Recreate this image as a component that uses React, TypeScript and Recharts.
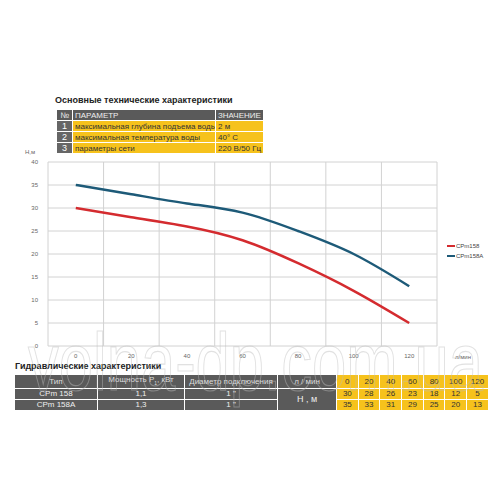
import { CartesianGrid, Line, LineChart, XAxis, YAxis } from 'recharts';

const flow = [0, 20, 40, 60, 80, 100, 120];
const headCPm158 = [30, 28, 26, 23, 18, 12, 5];
const headCPm158A = [35, 33, 31, 29, 25, 20, 13];
const flowTicks = [0, 20, 40, 60, 80, 100, 120];
const gridTicks = [-10, 10, 30, 50, 70, 90, 110, 130];
const headTicks = [0, 5, 10, 15, 20, 25, 30, 35, 40];

const paramRows = [
  ['1', 'максимальная глубина подъема воды', '2 м'],
  ['2', 'максимальная температура воды', '40° С'],
  ['3', 'параметры сети', '220 В/50 Гц'],
];
const pumpModels = ['CPm 158', 'CPm 158A'];
const pumpPower = ['1,1', '1,3'];
const pumpDiameter = ['1 "', '1 "'];

const FONT = '"Liberation Sans Narrow", "Liberation Sans", Arial, sans-serif';
const YELLOW = '#f6c21c';
const DARK = '#5a5a5a';
const RED = '#d42b2f';
const BLUE = '#1d5a78';

const series = [
  { key: 'a', name: 'CPm158', color: RED },
  { key: 'b', name: 'CPm158A', color: BLUE },
];

const data = flow.map((q, i) => ({ q, a: headCPm158[i], b: headCPm158A[i] }));

const cell = (bg: string, color: string, extra: React.CSSProperties = {}): React.CSSProperties => ({
  background: bg,
  color,
  padding: '0 2px',
  border: '1px solid #fff',
  whiteSpace: 'nowrap',
  overflow: 'hidden',
  lineHeight: '9px',
  ...extra,
});

export default function App() {
  return (
    <div style={{ position: 'absolute', left: 0, top: 0, width: 500, height: 500, background: '#fff', fontFamily: FONT }}>
      <div style={{ position: 'absolute', left: 55, top: 95, fontSize: 9, fontWeight: 'bold', color: '#222' }}>
        Основные технические характеристики
      </div>
      <table
        style={{ position: 'absolute', left: 56, top: 109, borderCollapse: 'collapse', fontSize: 8, tableLayout: 'fixed', width: 207 }}
      >
        <colgroup>
          <col style={{ width: 16 }} />
          <col style={{ width: 143 }} />
          <col style={{ width: 48 }} />
        </colgroup>
        <tbody>
          <tr style={{ height: 11 }}>
            <td style={cell(DARK, '#eee', { textAlign: 'center' })}>№</td>
            <td style={cell(DARK, '#eee')}>ПАРАМЕТР</td>
            <td style={cell(DARK, '#eee')}>ЗНАЧЕНИЕ</td>
          </tr>
          {paramRows.map((r) => (
            <tr key={r[0]} style={{ height: 11 }}>
              <td style={cell('#666', '#fff', { textAlign: 'center', fontSize: 9 })}>{r[0]}</td>
              <td style={cell(YELLOW, '#333')}>{r[1]}</td>
              <td style={cell(YELLOW, '#333')}>{r[2]}</td>
            </tr>
          ))}
        </tbody>
      </table>

      <div style={{ position: 'absolute', left: 0, top: 0 }}>
        <LineChart width={500} height={500} data={data} margin={{ top: 162, right: 63, bottom: 134, left: 28 }}>
          <XAxis xAxisId="grid" dataKey="q" type="number" domain={[-10, 130]} ticks={gridTicks} hide />
          <CartesianGrid xAxisId="grid" stroke="#d2d2d2" strokeWidth={1} />
          <XAxis
            dataKey="q"
            type="number"
            domain={[-10, 130]}
            ticks={flowTicks}
            interval={0}
            axisLine={false}
            tickLine={false}
            tickSize={0}
            tickMargin={8}
            height={20}
            tick={{ fontSize: 6, fill: '#666', fontFamily: FONT }}
          />
          <YAxis
            type="number"
            domain={[0, 40]}
            ticks={headTicks}
            interval={0}
            axisLine={false}
            tickLine={false}
            tickSize={0}
            tickMargin={10}
            width={20}
            tick={{ fontSize: 6, fill: '#666', fontFamily: FONT }}
          />
          {series.map((s) => (
            <Line
              key={s.key}
              name={s.name}
              dataKey={s.key}
              type="natural"
              stroke={s.color}
              strokeWidth={2.5}
              dot={false}
              isAnimationActive={false}
            />
          ))}
        </LineChart>
      </div>

      <div style={{ position: 'absolute', left: 447, top: 241, fontSize: 6, color: '#444' }}>
        {series.map((s) => (
          <div key={s.key} style={{ display: 'flex', alignItems: 'center', height: 10 }}>
            <span style={{ width: 8, height: 2, background: s.color, marginRight: 1 }} />
            {s.name}
          </div>
        ))}
      </div>

      <div style={{ position: 'absolute', left: 25, top: 149, fontSize: 6, color: '#666' }}>Н,м</div>
      <div style={{ position: 'absolute', left: 455, top: 354, fontSize: 6, color: '#666' }}>л/мин</div>

      <div style={{ position: 'absolute', left: 15, top: 361, fontSize: 9, fontWeight: 'bold', color: '#222' }}>
        Гидравлические характеристики
      </div>
      <table
        style={{ position: 'absolute', left: 14, top: 374, borderCollapse: 'collapse', fontSize: 8, tableLayout: 'fixed', width: 474 }}
      >
        <colgroup>
          <col style={{ width: 83 }} />
          <col style={{ width: 87 }} />
          <col style={{ width: 93 }} />
          <col style={{ width: 59 }} />
          {flow.map((q) => (
            <col key={q} style={{ width: 21.7 }} />
          ))}
        </colgroup>
        <tbody>
          <tr style={{ height: 11 }}>
            <td style={cell(DARK, '#ddd', { textAlign: 'center' })}>Тип</td>
            <td style={cell(DARK, '#ddd', { textAlign: 'center' })}>
              Мощность Р<sub style={{ fontSize: 5 }}>1</sub>, кВт
            </td>
            <td style={cell(DARK, '#ddd', { textAlign: 'center' })}>Диаметр подключения</td>
            <td style={cell(DARK, '#ddd', { textAlign: 'center' })}>л / мин</td>
            {flow.map((q) => (
              <td key={q} style={cell(YELLOW, '#333', { textAlign: 'center', padding: 0 })}>
                {q}
              </td>
            ))}
          </tr>
          {pumpModels.map((m, r) => (
            <tr key={m} style={{ height: 11 }}>
              <td style={cell(DARK, '#eee', { textAlign: 'center' })}>{m}</td>
              <td style={cell(DARK, '#eee', { textAlign: 'center' })}>{pumpPower[r]}</td>
              <td style={cell(DARK, '#eee', { textAlign: 'center' })}>{pumpDiameter[r]}</td>
              {r === 0 && (
                <td rowSpan={2} style={cell(DARK, '#eee', { textAlign: 'center', fontSize: 9 })}>
                  Н , м
                </td>
              )}
              {(r === 0 ? headCPm158 : headCPm158A).map((h, i) => (
                <td key={i} style={cell(YELLOW, '#333', { textAlign: 'center', padding: 0 })}>
                  {h}
                </td>
              ))}
            </tr>
          ))}
        </tbody>
      </table>

      <svg width={500} height={500} style={{ position: 'absolute', left: 0, top: 0, pointerEvents: 'none' }}>
        <text
          x={28}
          y={390}
          fontSize={82}
          fontFamily='"Liberation Sans", Arial, sans-serif'
          fill="none"
          stroke="#bdbdbd"
          strokeWidth={1.2}
          strokeOpacity={0.45}
          textLength={455}
          lengthAdjust="spacingAndGlyphs"
        >
          volna-dp.com.ua
        </text>
      </svg>
    </div>
  );
}
